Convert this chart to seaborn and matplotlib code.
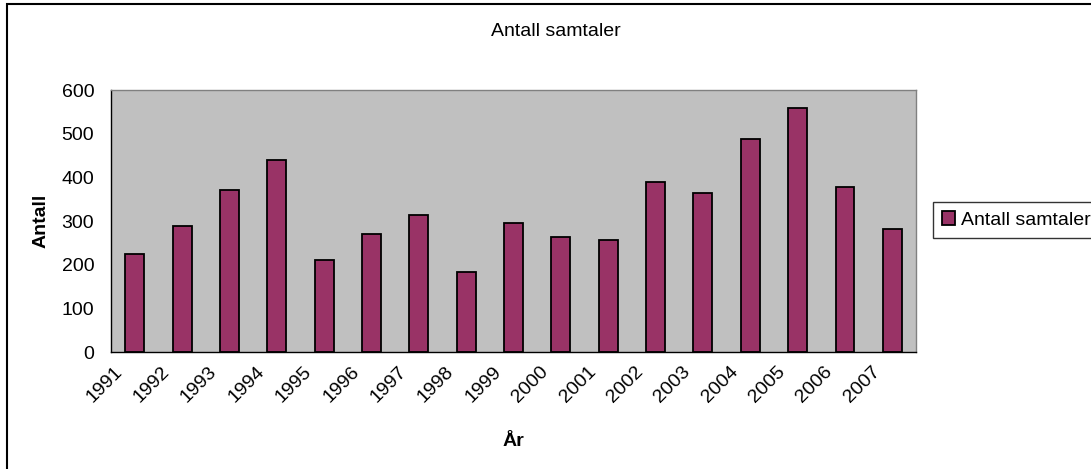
import pandas as pd
import matplotlib.pyplot as plt
import matplotlib.patches as mpatches
import matplotlib.transforms as mtransforms
import seaborn as sns

# Data
years = ["1991", "1992", "1993", "1994", "1995", "1996", "1997", "1998", "1999",
         "2000", "2001", "2002", "2003", "2004", "2005", "2006", "2007"]
samtaler = [225, 288, 372, 439, 210, 271, 313, 183, 295,
            264, 257, 389, 365, 488, 558, 379, 281]

df = pd.DataFrame({"År": years, "Antall": samtaler})

sns.set_theme(style="white")
plt.rcParams["font.family"] = ["Liberation Sans", "DejaVu Sans"]
plt.rcParams["text.color"] = "black"
plt.rcParams["axes.labelcolor"] = "black"
plt.rcParams["xtick.color"] = "black"
plt.rcParams["ytick.color"] = "black"

fs = 14

fig = plt.figure(figsize=(10.91, 4.69), dpi=100)
ax = fig.add_axes([111 / 1091, 1 - 352 / 469, 805 / 1091, 262 / 469])

sns.barplot(data=df, x="År", y="Antall", color="#993366", width=0.4,
            edgecolor="black", linewidth=1.3, saturation=1,
            label="Antall samtaler", ax=ax)

ax.set_facecolor("#C0C0C0")
ax.set_xlim(-0.5, len(years) - 0.5)
ax.set_ylim(0, 600)
ax.set_yticks(range(0, 601, 100))

for side in ["left", "bottom"]:
    ax.spines[side].set_color("black")
    ax.spines[side].set_linewidth(1.0)
for side in ["top", "right"]:
    ax.spines[side].set_color("#808080")
    ax.spines[side].set_linewidth(1.0)

# tick marks at category boundaries, labels at centres
ax.set_xticks([i - 0.5 for i in range(len(years) + 1)], minor=True)
ax.tick_params(axis="x", which="minor", direction="inout", length=9, width=1, color="black")
ax.tick_params(axis="x", which="major", length=0, pad=8)
ax.tick_params(axis="y", direction="out", length=5, width=1, color="black", pad=7, labelsize=fs)
ax.set_xticks(range(len(years)))
ax.set_xticklabels(years, rotation=45, ha="right", rotation_mode="anchor", fontsize=fs)
shift = mtransforms.ScaledTranslation(-0.21, 0, fig.dpi_scale_trans)
for lab in ax.get_xticklabels():
    lab.set_transform(lab.get_transform() + shift)

ax.set_xlabel("År", fontsize=fs, fontweight="bold")
ax.set_ylabel("Antall", fontsize=fs, fontweight="bold")
ax.xaxis.set_label_coords(0.5, -0.31)
ax.yaxis.set_label_coords(-0.076, 0.5)

fig.text(556 / 1091, 1 - 31 / 469, "Antall samtaler", ha="center", va="center", fontsize=fs)

ax.legend(loc="center left", bbox_to_anchor=(933 / 1091, 1 - 220 / 469),
          bbox_transform=fig.transFigure, frameon=True, fancybox=False,
          edgecolor="black", fontsize=fs, handlelength=0.7, handleheight=0.7,
          handletextpad=0.3, borderpad=0.45, borderaxespad=0)

# outer chart border (cropped at right and bottom in the reference)
fig.patches.append(mpatches.Rectangle((7 / 1091, -0.1), 1.2, 1 - 4 / 469 + 0.1,
                                      transform=fig.transFigure, fill=False,
                                      edgecolor="black", linewidth=1.5))

plt.savefig("out.png", dpi=100)
plt.close()
